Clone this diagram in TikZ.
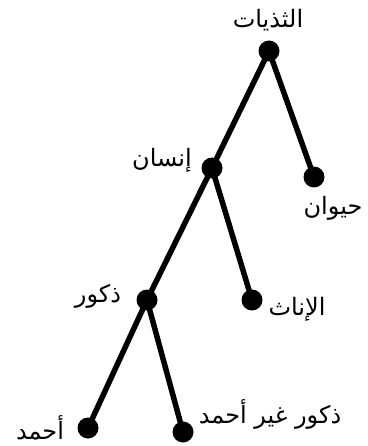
\documentclass[tikz,border=0pt]{standalone}
\usepackage{fontspec}
\newfontfamily\arabicfont[Script=Arabic]{DejaVu Sans}
\TeXXeTstate=1
\pgfdeclarelayer{bg}
\pgfsetlayers{bg,main}
\begin{document}
\begin{tikzpicture}[x=1pt,y=-1pt,
  dotnode/.style={circle,fill=black,inner sep=0pt,minimum size=21pt},
  lbl/.style={font=\arabicfont\fontsize{24}{28}\selectfont,inner sep=0pt},
  branch/.style={line width=5.5pt}]
\useasboundingbox (0,0) rectangle (367,446);
\node[dotnode] (root) at (269,51) {};
\node[dotnode] (animal) at (314,177) {};
\node[dotnode] (human) at (212,168) {};
\node[dotnode] (males) at (147,300) {};
\node[dotnode] (females) at (252,300) {};
\node[dotnode] (ahmad) at (88,428) {};
\node[dotnode] (notahmad) at (183,432) {};
\node[lbl] (lroot) at (268,20) {\beginR الثذيات\endR};
\node[lbl] (lanimal) at (333,208) {\beginR حيوان\endR};
\node[lbl] (lhuman) at (162,160) {\beginR إنسان\endR};
\node[lbl] (lmales) at (98,296) {\beginR ذكور\endR};
\node[lbl] (lfemales) at (297,309) {\beginR الإناث\endR};
\node[lbl] (lahmad) at (40,428) {\beginR أحمد\endR};
\node[lbl] (lnotahmad) at (270,414) {\beginR ذكور غير أحمد\endR};
\begin{pgfonlayer}{bg}
\draw[branch] (root.center) -- (animal.center);
\draw[branch] (root.center) -- (human.center);
\draw[branch] (human.center) -- (males.center);
\draw[branch] (human.center) -- (females.center);
\draw[branch] (males.center) -- (ahmad.center);
\draw[branch] (males.center) -- (notahmad.center);
\end{pgfonlayer}
\end{tikzpicture}
\end{document}
